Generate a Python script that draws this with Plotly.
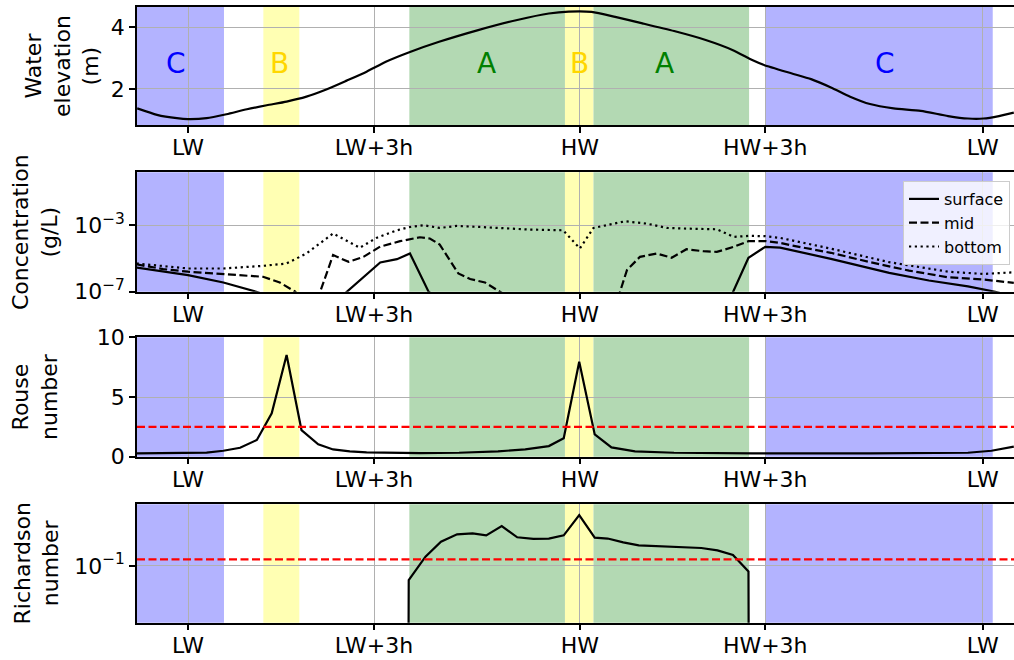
import plotly.graph_objects as go

# ---------------- data ----------------
tick_vals = [0, 3, 6.32, 9.31, 12.82]
tick_text = ["LW", "LW+3h", "HW", "HW+3h", "LW"]
x_range = [-0.823, 13.323]

region_start = [-1.0, 1.215, 3.57, 6.08, 6.54, 9.31]
region_end = [0.58, 1.795, 6.08, 6.54, 9.05, 12.98]
region_kind = ["C", "B", "A", "B", "A", "C"]
label_x = [-0.19, 1.48, 4.81, 6.32, 7.68, 11.25]
label_y = 2.84

t_wl = [-0.82, -0.5, -0.18, 0.0, 0.3, 0.62, 0.95, 1.27, 1.59, 1.91, 2.24, 2.56, 2.88, 3.2,
        3.58, 4.05, 4.68, 5.31, 5.82, 6.14, 6.51, 6.89, 7.33, 7.84, 8.35, 8.79, 9.1, 9.29,
        9.73, 10.05, 10.37, 10.68, 11.0, 11.38, 11.82, 12.26, 12.58, 12.83, 13.08, 13.32]
water_level = [1.37, 1.16, 1.05, 1.02, 1.05, 1.18, 1.34, 1.47, 1.59, 1.75, 1.99, 2.27, 2.56, 2.89,
               3.2, 3.53, 3.91, 4.24, 4.45, 4.51, 4.50, 4.34, 4.13, 3.88, 3.59, 3.26, 2.94, 2.78,
               2.51, 2.32, 2.05, 1.75, 1.51, 1.37, 1.29, 1.12, 1.04, 1.04, 1.12, 1.23]

t_surf = [-0.83, 0.0, 0.57, 1.10, 1.40, 2.35, 3.10, 3.37, 3.58, 3.88, 4.10, 8.50, 8.72, 9.04,
          9.31, 9.55, 10.37, 11.31, 11.95, 12.58, 13.02, 13.32]
conc_surface = [2.8e-6, 1.0e-6, 3.6e-7, 1.0e-7, 4.0e-8, 2.0e-8, 5.8e-6, 9.1e-6, 2.0e-5, 1.0e-7,
                2.5e-8, 2.5e-8, 2.5e-8, 1.1e-5, 5.0e-5, 4.5e-5, 9.5e-6, 1.35e-6, 4.7e-7, 2.1e-7,
                1.0e-7, 5.0e-8]

t_mid = [-0.83, -0.40, 0.0, 0.57, 1.21, 1.48, 1.73, 2.00, 2.34, 2.59, 2.83, 3.10, 3.42, 3.74,
         3.90, 4.06, 4.23, 4.36, 4.55, 4.79, 5.03, 5.30, 6.75, 6.90, 7.08, 7.29, 7.56, 7.80,
         8.04, 8.31, 8.53, 8.80, 9.04, 9.31, 9.55, 9.73, 10.37, 11.0, 11.63, 12.26, 12.83, 13.32]
conc_mid = [4.4e-6, 2.3e-6, 1.6e-6, 1.2e-6, 7.9e-7, 3.6e-7, 1.0e-7, 4.0e-9, 1.6e-5, 6.3e-6,
            1.26e-5, 5.2e-5, 1.1e-4, 1.9e-4, 1.6e-4, 6.9e-5, 7.9e-6, 1.26e-6, 5.8e-7, 3.6e-7,
            1.0e-7, 2.5e-8, 1.26e-8, 1.6e-8, 2.0e-6, 1.26e-5, 2.0e-5, 1.1e-5, 3.6e-5, 2.75e-5,
            2.5e-5, 5.0e-5, 1.1e-4, 1.12e-4, 8.7e-5, 6.2e-5, 2.2e-5, 6.0e-6, 1.86e-6, 7.4e-7,
            5.4e-7, 3.4e-7]

t_bot = [-0.83, 0.0, 0.57, 1.21, 1.59, 1.91, 2.34, 2.77, 3.04, 3.37, 3.58, 3.80, 4.06, 4.33,
         4.71, 5.14, 5.52, 6.05, 6.32, 6.54, 6.81, 7.05, 7.40, 7.72, 8.04, 8.53, 8.80, 9.06,
         9.31, 9.55, 10.37, 11.31, 12.26, 12.83, 13.32]
conc_bottom = [5.0e-6, 2.5e-6, 2.5e-6, 3.6e-6, 5.0e-6, 2.0e-5, 3.2e-4, 4.4e-5, 1.74e-4, 5.0e-4,
               7.9e-4, 1.0e-3, 6.9e-4, 9.1e-4, 7.9e-4, 6.3e-4, 5.5e-4, 5.0e-4, 4.0e-5, 6.9e-4,
               1.1e-3, 1.74e-3, 1.26e-3, 6.9e-4, 6.3e-4, 5.75e-4, 2.0e-4, 2.3e-4, 2.2e-4,
               1.74e-4, 3.9e-5, 6.0e-6, 1.6e-6, 1.17e-6, 1.48e-6]

t_rouse = [-0.83, 0.0, 0.30, 0.57, 0.84, 1.11, 1.35, 1.59, 1.83, 2.10, 2.34, 2.61, 2.88, 3.74,
           4.37, 5.0, 5.44, 5.82, 6.06, 6.31, 6.56, 6.83, 7.21, 7.84, 9.1, 11.0, 12.58, 12.96, 13.32]
rouse = [0.28, 0.28, 0.34, 0.5, 0.75, 1.4, 3.63, 8.52, 2.23, 1.03, 0.61, 0.45, 0.36, 0.3,
         0.33, 0.45, 0.61, 0.89, 1.54, 7.96, 1.87, 0.78, 0.45, 0.33, 0.28, 0.28, 0.33, 0.5, 0.84]
rouse_critical = 2.5

t_ri = [3.31, 3.56, 3.83, 4.08, 4.34, 4.59, 4.81, 5.06, 5.31, 5.57, 5.82, 6.06, 6.31, 6.56,
        6.77, 7.02, 7.27, 7.52, 7.78, 8.03, 8.28, 8.54, 8.79, 9.04, 9.29]
richardson = [0, 0.014, 0.37, 2.95, 8.3, 9.5, 7.2, 26, 5.5, 4.4, 4.6, 7.2, 123, 5.2, 4.6, 2.7,
              1.78, 1.62, 1.55, 1.29, 1.23, 0.89, 0.47, 0.046, 0]
richardson_critical = 0.25

# ---------------- styling ----------------
FONT = "DejaVu Sans"
W, H = 1014, 660
L = 137
shade = {"A": "#b3d9b3", "B": "#ffffb3", "C": "#b3b3ff"}
txtcol = {"A": "green", "B": "gold", "C": "blue"}

panel_px = [(6.7, 125.3), (172.3, 291.7), (337.3, 456.7), (504.3, 622.7)]
domains = [[1 - b / H, 1 - t / H] for (t, b) in panel_px]

fig = go.Figure()
LW_ = 2.2

def ax(i):
    return ("x" if i == 1 else f"x{i}"), ("y" if i == 1 else f"y{i}")

# panel 1
fig.add_trace(go.Scatter(x=t_wl, y=water_level, mode="lines", line=dict(color="black", width=LW_, shape="spline", smoothing=0.6),
                         showlegend=False, xaxis="x", yaxis="y"))
# panel 2
fig.add_trace(go.Scatter(x=t_surf, y=conc_surface, mode="lines", name="surface",
                         line=dict(color="black", width=LW_), xaxis="x2", yaxis="y2"))
fig.add_trace(go.Scatter(x=t_mid, y=conc_mid, mode="lines", name="mid",
                         line=dict(color="black", width=LW_, dash="8px,3.5px"), xaxis="x2", yaxis="y2"))
fig.add_trace(go.Scatter(x=t_bot, y=conc_bottom, mode="lines", name="bottom",
                         line=dict(color="black", width=LW_, dash="2.2px,3.6px"), xaxis="x2", yaxis="y2"))
# panel 3
fig.add_trace(go.Scatter(x=t_rouse, y=rouse, mode="lines", line=dict(color="black", width=LW_),
                         showlegend=False, xaxis="x3", yaxis="y3"))
fig.add_trace(go.Scatter(x=x_range, y=[rouse_critical, rouse_critical], mode="lines",
                         line=dict(color="red", width=LW_, dash="8px,3.5px"), showlegend=False,
                         xaxis="x3", yaxis="y3"))
# panel 4 (non-positive values clipped like matplotlib's log scale)
ri_plot = [v if v > 0 else 1e-300 for v in richardson]
fig.add_trace(go.Scatter(x=t_ri, y=ri_plot, mode="lines", line=dict(color="black", width=LW_),
                         showlegend=False, xaxis="x4", yaxis="y4"))
fig.add_trace(go.Scatter(x=x_range, y=[richardson_critical, richardson_critical], mode="lines",
                         line=dict(color="red", width=LW_, dash="8px,3.5px"), showlegend=False,
                         xaxis="x4", yaxis="y4"))

shapes = []
for i in range(1, 5):
    xa, ya = ax(i)
    for s, e, k in zip(region_start, region_end, region_kind):
        shapes.append(dict(type="rect", xref=xa, yref=f"{ya} domain", x0=s, x1=e, y0=0, y1=1,
                           fillcolor=shade[k], line=dict(width=0), layer="below"))

annotations = []
for xx, k in zip(label_x, region_kind):
    annotations.append(dict(x=xx, y=label_y, xref="x", yref="y", text=k, showarrow=False,
                            font=dict(family=FONT, size=28, color=txtcol[k]),
                            xanchor="center", yanchor="middle"))

ytitles = [("Water<br>elevation<br>(m)", 62), ("Concentration<br>(g/L)", 35),
           ("Rouse<br>number", 35), ("Richardson<br>number", 36)]
for (txt, px), (t, b) in zip(ytitles, panel_px):
    annotations.append(dict(x=(px - L) / (W - L), y=1 - (t + b) / 2 / H, xref="paper", yref="paper",
                            text=txt, textangle=-90, showarrow=False, xanchor="center", yanchor="middle",
                            font=dict(family=FONT, size=22, color="black")))

common_x = dict(range=x_range, tickmode="array", tickvals=tick_vals, ticktext=tick_text,
                showgrid=True, gridcolor="#b0b0b0", gridwidth=1.3, zeroline=False,
                showline=True, linecolor="black", linewidth=1.5, mirror=True,
                ticks="outside", ticklen=6, tickwidth=1.5, tickcolor="black", automargin=False,
                ticklabelstandoff=-4,
                tickfont=dict(family=FONT, size=22, color="black"), fixedrange=True)
common_y = dict(showgrid=True, gridcolor="#b0b0b0", gridwidth=1.3, zeroline=False,
                showline=True, linecolor="black", linewidth=1.5, mirror=False, automargin=False,
                ticks="outside", ticklen=6, tickwidth=1.5, tickcolor="black",
                tickfont=dict(family=FONT, size=22, color="black"), fixedrange=True, tickmode="array")

layout = dict(width=W, height=H, margin=dict(l=L, r=0, t=0, b=0, autoexpand=False),
              plot_bgcolor="white",
              paper_bgcolor="white", shapes=shapes, annotations=annotations, hovermode=False,
              font=dict(family=FONT, color="black"),
              legend=dict(x=(1010 - L) / (W - L), y=1 - 181 / H, xanchor="right", yanchor="top",
                          bgcolor="rgba(255,255,255,0.8)", bordercolor="#cccccc", borderwidth=1,
                          font=dict(family=FONT, size=16, color="black"), tracegroupgap=0))

yspecs = [
    dict(range=[0.82, 4.67], tickvals=[2, 4], ticktext=["2", "4"]),
    dict(type="log", range=[-7, 0.19], tickvals=[1e-7, 1e-3], ticktext=["10<sup>−7</sup>", "10<sup>−3</sup>"]),
    dict(range=[0, 10], tickvals=[0, 5, 10], ticktext=["0", "5", "10"]),
    dict(type="log", range=[-4.44, 2.74], tickvals=[0.1], ticktext=["10<sup>−1</sup>"]),
]
for i in range(1, 5):
    xa, ya = ax(i)
    xkey = "xaxis" if i == 1 else f"xaxis{i}"
    ykey = "yaxis" if i == 1 else f"yaxis{i}"
    layout[xkey] = dict(common_x, domain=[0, 1], anchor=ya)
    layout[ykey] = dict(common_y, domain=domains[i - 1], anchor=xa, **yspecs[i - 1])

fig.update_layout(**layout)
fig.write_html("out.html", config={"displayModeBar": False})
